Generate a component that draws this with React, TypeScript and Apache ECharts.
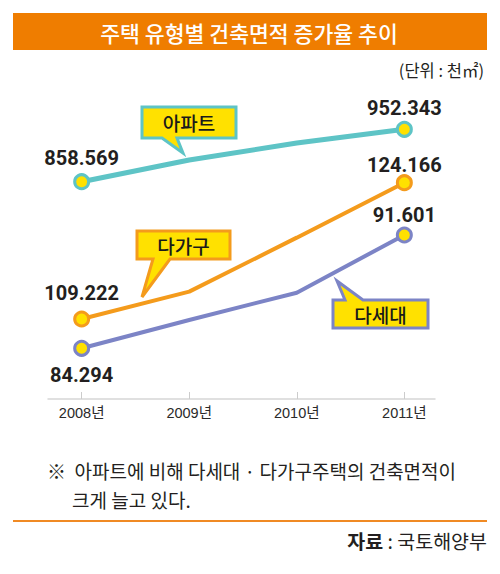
import React, { useEffect, useRef } from "react";
import * as echarts from "echarts";

// Data
const years = [2008, 2009, 2010, 2011];
const apartment = [858.569, 897.4, 927.8, 952.343]; // 아파트
const multiFamily = [109.222, 112.22, 118.14, 124.166]; // 다가구
const multiHousehold = [84.294, 86.12, 87.88, 91.601]; // 다세대
const labeledIndexes = [0, 3];

const KR = "'Noto Sans CJK KR', 'Noto Sans', sans-serif";
const NUM = "Roboto, 'Liberation Sans', sans-serif";

const TEAL = "#5EC4C6";
const ORANGE = "#F49B1C";
const PURPLE = "#7C84C6";
const YELLOW = "#FFE100";

function makeSeries(
  name: string,
  values: number[],
  color: string,
  yAxisIndex: number,
  labelPos: string[],
  labelDist: number[],
  width: number
) {
  return {
    name,
    type: "line",
    yAxisIndex,
    symbol: "circle",
    symbolSize: 14,
    showSymbol: true,
    lineStyle: { color, width },
    itemStyle: { color: YELLOW, borderColor: color, borderWidth: 3 },
    z: 3,
    data: values.map((v, i) => {
      const li = labeledIndexes.indexOf(i);
      return {
        value: [years[i], v],
        symbolSize: li >= 0 ? 14 : 0,
        label: {
          show: li >= 0,
          position: li >= 0 ? labelPos[li] : "top",
          distance: li >= 0 ? labelDist[li] : 5,
          formatter: (p: any) => p.value[1].toFixed(3),
          fontFamily: NUM,
          fontWeight: "bold",
          fontSize: 20,
          color: "#231F20",
        },
      };
    }),
  };
}

function callout(points: number[][], color: string, text: string, cx: number, cy: number) {
  return {
    type: "group",
    z: 100,
    children: [
      {
        type: "polygon",
        shape: { points },
        style: { fill: YELLOW, stroke: color, lineWidth: 3, lineJoin: "miter" },
        z: 100,
      },
      {
        type: "text",
        x: cx,
        y: cy,
        style: {
          text,
          fontFamily: KR,
          fontSize: 19,
          fontWeight: 500,
          fill: "#1a1a1a",
          align: "center",
          verticalAlign: "middle",
        },
        z: 101,
      },
    ],
  };
}

export default function App() {
  const ref = useRef<HTMLDivElement>(null);

  useEffect(() => {
    if (!ref.current) return;
    const chart = echarts.init(ref.current, null, { renderer: "svg" });
    const option: any = {
      animation: false,
      backgroundColor: "#ffffff",
      grid: { left: 48, right: 65, top: 100, bottom: 175 },
      xAxis: {
        type: "value",
        min: 2007.687,
        max: 2011.285,
        splitLine: { show: false },
        axisLine: { show: true, onZero: false, lineStyle: { color: "#d6d6d6", width: 1.5 } },
        axisTick: {
          show: true,
          inside: true,
          length: 7,
          customValues: years,
          lineStyle: { color: "#cccccc", width: 1 },
        },
        axisLabel: {
          customValues: years,
          formatter: (v: number) => `${v}년`,
          color: "#2a2a2a",
          fontSize: 14.5,
          fontFamily: "'Liberation Sans', 'Noto Sans CJK KR', sans-serif",
          margin: 7,
        },
      },
      yAxis: [
        { type: "value", show: false, min: 469.69, max: 1004.78, splitLine: { show: false } },
        { type: "value", show: false, min: 100.451, max: 133.233, splitLine: { show: false } },
        { type: "value", show: false, min: 81.024, max: 100.307, splitLine: { show: false } },
      ],
      series: [
        makeSeries("아파트", apartment, TEAL, 0, ["top", "top"], [5, 2.5], 5),
        makeSeries("다가구", multiFamily, ORANGE, 1, ["top", "top"], [8, -1], 4),
        makeSeries("다세대", multiHousehold, PURPLE, 2, ["bottom", "top"], [8, 1], 4),
      ],
      graphic: [
        {
          type: "rect",
          shape: { x: 13, y: 13, width: 474, height: 37 },
          style: { fill: "#EF7D00" },
          z: 50,
        },
        {
          type: "text",
          x: 249,
          y: 32,
          style: {
            text: "주택 유형별 건축면적 증가율 추이",
            fontFamily: KR,
            fontSize: 21.6,
            fontWeight: 500,
            fill: "#ffffff",
            align: "center",
            verticalAlign: "middle",
          },
          z: 51,
        },
        {
          type: "text",
          x: 484,
          y: 70,
          style: {
            text: "(단위 : 천㎡)",
            fontFamily: KR,
            fontSize: 16.5,
            fill: "#231F20",
            align: "right",
            verticalAlign: "middle",
          },
          z: 51,
        },
        callout(
          [[142, 107], [236, 107], [236, 138], [177, 138], [183, 153], [162, 138], [142, 138]],
          TEAL,
          "아파트",
          189,
          122.5
        ),
        callout(
          [[137, 231], [230, 231], [230, 259], [170, 259], [142, 297], [153, 259], [137, 259]],
          ORANGE,
          "다가구",
          183.5,
          245
        ),
        callout(
          [[333, 300], [345, 300], [337, 281], [363, 300], [428, 300], [428, 328], [333, 328]],
          PURPLE,
          "다세대",
          380.5,
          314
        ),
        {
          type: "text",
          x: 47,
          y: 470,
          style: {
            text: "※  아파트에 비해 다세대 · 다가구주택의 건축면적이",
            fontFamily: KR,
            fontSize: 19,
            fill: "#231F20",
            align: "left",
            verticalAlign: "middle",
          },
          z: 51,
        },
        {
          type: "text",
          x: 72,
          y: 499,
          style: {
            text: "크게 늘고 있다.",
            fontFamily: KR,
            fontSize: 19,
            fill: "#231F20",
            align: "left",
            verticalAlign: "middle",
          },
          z: 51,
        },
        {
          type: "line",
          shape: { x1: 13, y1: 521, x2: 487, y2: 521 },
          style: { stroke: "#F08A24", lineWidth: 2 },
          z: 51,
        },
        {
          type: "text",
          x: 487,
          y: 540,
          style: {
            text: "{b|자료} : 국토해양부",
            fontFamily: KR,
            fontSize: 19.5,
            fill: "#231F20",
            align: "right",
            verticalAlign: "middle",
            rich: {
              b: { fontFamily: KR, fontSize: 19.5, fontWeight: "bold", fill: "#231F20" },
            },
          },
          z: 51,
        },
      ],
    };
    chart.setOption(option);
    return () => chart.dispose();
  }, []);

  return (
    <div
      ref={ref}
      style={{ position: "absolute", left: 0, top: 0, width: 500, height: 574, background: "#fff" }}
    />
  );
}
